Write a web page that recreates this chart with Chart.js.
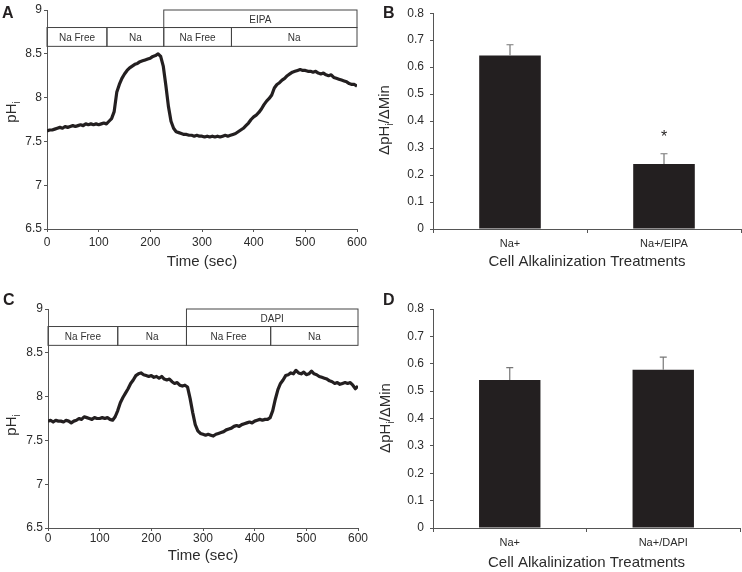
<!DOCTYPE html>
<html>
<head>
<meta charset="utf-8">
<script src="https://cdn.jsdelivr.net/npm/chart.js@4.4.0/dist/chart.umd.min.js"></script>
<style>
  body { margin: 0; background: #fff; width: 742px; height: 572px; position: relative; overflow: hidden; }
  .panel { position: absolute; width: 371px; height: 286px; }
  .letter { position: absolute; font: bold 16px/16px "Liberation Sans", Arial, sans-serif; color: #231f20; }
</style>
</head>
<body>
<div class="panel" style="left:0;top:0"><canvas id="chartA"></canvas></div>
<div class="panel" style="left:371px;top:0"><canvas id="chartB"></canvas></div>
<div class="panel" style="left:0;top:286px"><canvas id="chartC"></canvas></div>
<div class="panel" style="left:371px;top:286px"><canvas id="chartD"></canvas></div>
<div class="letter" style="left:2px;top:5px">A</div>
<div class="letter" style="left:383px;top:5px">B</div>
<div class="letter" style="left:3px;top:292px">C</div>
<div class="letter" style="left:383px;top:292px">D</div>
<script>
// time points (sec) of the pH traces
const times = [0,5,10,15,20,25,30,35,40,45,50,55,60,65,70,75,80,85,90,95,
  100,105,110,115,120,125,130,135,140,145,150,155,160,165,170,175,180,185,190,195,
  200,205,210,215,220,225,230,235,240,245,250,255,260,265,270,275,280,285,290,295,
  300,305,310,315,320,325,330,335,340,345,350,355,360,365,370,375,380,385,390,395,
  400,405,410,415,420,425,430,435,440,445,450,455,460,465,470,475,480,485,490,495,
  500,505,510,515,520,525,530,535,540,545,550,555,560,565,570,575,580,585,590,595,600];

// panel A trace (EIPA)
const phA = [7.62,7.63,7.63,7.64,7.65,7.66,7.65,7.67,7.66,7.67,7.68,7.67,7.68,7.69,7.68,7.70,7.69,7.70,7.69,7.70,
  7.69,7.70,7.71,7.70,7.73,7.76,7.84,8.06,8.15,8.22,8.27,8.31,8.34,8.36,8.38,8.39,8.41,8.42,8.43,8.44,
  8.45,8.47,8.48,8.50,8.47,8.36,8.14,7.90,7.73,7.65,7.61,7.60,7.59,7.58,7.58,7.57,7.57,7.56,7.57,7.56,
  7.56,7.55,7.56,7.55,7.56,7.55,7.56,7.55,7.56,7.57,7.56,7.57,7.58,7.59,7.61,7.63,7.65,7.68,7.71,7.75,
  7.78,7.80,7.83,7.87,7.92,7.96,7.99,8.03,8.11,8.15,8.17,8.20,8.22,8.25,8.27,8.29,8.30,8.31,8.32,8.31,
  8.31,8.30,8.30,8.29,8.30,8.28,8.27,8.28,8.26,8.25,8.26,8.23,8.22,8.21,8.20,8.19,8.18,8.16,8.15,8.15,8.13];

// panel C trace (DAPI)
const phC = [7.72,7.73,7.71,7.73,7.72,7.72,7.71,7.73,7.72,7.70,7.72,7.73,7.75,7.74,7.77,7.76,7.75,7.74,7.76,7.75,
  7.75,7.76,7.75,7.76,7.74,7.73,7.77,7.84,7.93,7.99,8.04,8.09,8.15,8.19,8.24,8.26,8.27,8.25,8.24,8.23,
  8.24,8.22,8.23,8.21,8.23,8.20,8.19,8.20,8.17,8.15,8.16,8.13,8.12,8.13,8.11,7.98,7.82,7.68,7.61,7.58,
  7.57,7.56,7.57,7.56,7.55,7.57,7.58,7.59,7.60,7.62,7.63,7.64,7.66,7.67,7.66,7.68,7.69,7.70,7.71,7.70,
  7.72,7.73,7.74,7.73,7.74,7.74,7.76,7.84,7.97,8.08,8.15,8.19,8.24,8.25,8.27,8.26,8.30,8.27,8.26,8.28,
  8.25,8.26,8.29,8.26,8.25,8.23,8.22,8.21,8.20,8.18,8.17,8.15,8.16,8.14,8.15,8.16,8.15,8.16,8.13,8.09,8.12];

// perfusion protocol (sec)
const segEdgesA = [0, 116, 226, 357, 600];
const segLabelsA = ["Na Free", "Na", "Na Free", "Na"];
const drugSpanA = [226, 600];
const drugLabelA = "EIPA";

const segEdgesC = [0, 135, 268, 431, 600];
const segLabelsC = ["Na Free", "Na", "Na Free", "Na"];
const drugSpanC = [268, 600];
const drugLabelC = "DAPI";

// alkalinization rates
const treatmentsB = ["Na+", "Na+/EIPA"];
const rateB = [0.643, 0.241];
const semB = [0.040, 0.038];
const sigB = ["", "*"];

const treatmentsD = ["Na+", "Na+/DAPI"];
const rateD = [0.541, 0.578];
const semD = [0.045, 0.046];
const sigD = ["", ""];

const FONT = '"Liberation Sans", Arial, sans-serif';
const INK = '#231f20';
const TXT = '#2b2b2b';
const AXIS = '#555';
Chart.defaults.font.family = FONT;
Chart.defaults.color = TXT;
Chart.defaults.animation = false;

// rotated y title with a subscript i
const yTitle = {
  id: 'yTitle',
  afterDraw(chart, args, o) {
    const ctx = chart.ctx;
    ctx.save();
    ctx.translate(o.x, o.y);
    ctx.rotate(-Math.PI / 2);
    ctx.fillStyle = TXT;
    ctx.textBaseline = 'middle';
    let total = 0;
    o.parts.forEach(p => { ctx.font = (p.sub ? '10px ' : '15px ') + FONT; total += ctx.measureText(p.t).width; });
    let x = -total / 2;
    o.parts.forEach(p => {
      ctx.font = (p.sub ? '10px ' : '15px ') + FONT;
      ctx.fillText(p.t, x, p.sub ? 5 : 0);
      x += ctx.measureText(p.t).width;
    });
    ctx.restore();
  }
};

// protocol boxes above the trace
const protocol = {
  id: 'protocol',
  afterDatasetsDraw(chart, args, o) {
    const ctx = chart.ctx, xs = chart.scales.x, ys = chart.scales.y;
    const y0 = ys.getPixelForValue(o.levels[0]);
    const y1 = ys.getPixelForValue(o.levels[1]);
    const y2 = ys.getPixelForValue(o.levels[2]);
    ctx.save();
    ctx.strokeStyle = '#444';
    ctx.lineWidth = 1;
    ctx.font = '10px ' + FONT;
    ctx.textAlign = 'center';
    ctx.textBaseline = 'middle';
    const dx0 = xs.getPixelForValue(o.drug[0]), dx1 = xs.getPixelForValue(o.drug[1]);
    ctx.fillStyle = '#fff';
    ctx.fillRect(dx0, y0, dx1 - dx0, y1 - y0);
    ctx.strokeRect(dx0, y0, dx1 - dx0, y1 - y0);
    ctx.fillStyle = '#333';
    ctx.fillText(o.drugLabel, (dx0 + dx1) / 2, (y0 + y1) / 2 + 1);
    for (let i = 0; i < o.labels.length; i++) {
      const a = xs.getPixelForValue(o.edges[i]), b = xs.getPixelForValue(o.edges[i + 1]);
      ctx.strokeRect(a, y1, b - a, y2 - y1);
      ctx.fillText(o.labels[i], (a + b) / 2, (y1 + y2) / 2 + 1);
    }
    ctx.restore();
  }
};

// error bars and significance marks for the bar charts
const errorBars = {
  id: 'errorBars',
  afterDatasetsDraw(chart, args, o) {
    const ctx = chart.ctx, ys = chart.scales.y;
    const meta = chart.getDatasetMeta(0);
    const vals = chart.data.datasets[0].data;
    ctx.save();
    ctx.strokeStyle = '#777';
    ctx.lineWidth = 1.2;
    meta.data.forEach((bar, i) => {
      const yt = ys.getPixelForValue(vals[i]);
      const ye = ys.getPixelForValue(vals[i] + o.err[i]);
      ctx.beginPath();
      ctx.moveTo(bar.x, yt);
      ctx.lineTo(bar.x, ye);
      ctx.moveTo(bar.x - 3.5, ye);
      ctx.lineTo(bar.x + 3.5, ye);
      ctx.stroke();
      if (o.marks[i]) {
        ctx.fillStyle = INK;
        ctx.font = '16px ' + FONT;
        ctx.textAlign = 'center';
        ctx.textBaseline = 'middle';
        ctx.fillText(o.marks[i], bar.x, ye - 16);
      }
    });
    ctx.restore();
  }
};

function fixSize(w, h) {
  return s => { if (w != null) s.width = w; if (h != null) s.height = h; };
}

function traceChart(id, values, edges, labels, drug, drugLabel, lay) {
  const pts = times.map((t, i) => ({ x: t, y: values[i] }));
  return new Chart(id, {
    type: 'line',
    data: { datasets: [{ data: pts, borderColor: INK, borderWidth: 3.2, pointRadius: 0, tension: 0, borderJoinStyle: 'round' }] },
    options: {
      responsive: true,
      maintainAspectRatio: false,
      layout: { padding: { top: lay.top, right: lay.right, left: 0, bottom: 0 } },
      plugins: {
        legend: { display: false },
        tooltip: { enabled: false },
        protocol: { levels: [9, 8.8, 8.585], edges: edges, labels: labels, drug: drug, drugLabel: drugLabel },
        yTitle: { x: lay.tx, y: lay.ty, parts: [{ t: 'pH' }, { t: 'i', sub: true }] }
      },
      scales: {
        x: {
          type: 'linear', min: 0, max: 600,
          afterFit: fixSize(null, lay.xh),
          ticks: { stepSize: 100, padding: lay.tp, font: { size: 12 }, maxRotation: 0 },
          grid: { drawOnChartArea: false, tickLength: 3, color: AXIS },
          border: { color: AXIS },
          title: { display: true, text: 'Time (sec)', font: { size: 15 }, padding: { top: 0, bottom: lay.tpb } }
        },
        y: {
          min: 6.5, max: 9,
          afterFit: fixSize(lay.yw, null),
          ticks: { stepSize: 0.5, padding: 2, font: { size: 12 }, callback: v => String(v) },
          grid: { drawOnChartArea: false, tickLength: 3, color: AXIS },
          border: { color: AXIS }
        }
      }
    },
    plugins: [protocol, yTitle]
  });
}

function rateChart(id, cats, vals, err, marks, lay) {
  return new Chart(id, {
    type: 'bar',
    data: { labels: cats, datasets: [{ data: vals, backgroundColor: INK, borderWidth: 0, barPercentage: 0.4, categoryPercentage: 1 }] },
    options: {
      responsive: true,
      maintainAspectRatio: false,
      layout: { padding: { top: lay.top, right: lay.right, left: 0, bottom: 0 } },
      plugins: {
        legend: { display: false },
        tooltip: { enabled: false },
        errorBars: { err: err, marks: marks },
        yTitle: { x: lay.tx, y: lay.ty, parts: [{ t: '\u0394pH' }, { t: 'i', sub: true }, { t: '/\u0394Min' }] }
      },
      scales: {
        x: {
          afterFit: fixSize(null, lay.xh),
          ticks: { padding: 4, font: { size: 11 } },
          grid: { offset: true, drawOnChartArea: false, tickLength: 4, color: AXIS },
          border: { color: AXIS },
          title: { display: true, text: 'Cell Alkalinization Treatments', font: { size: 15 }, padding: { top: 0, bottom: lay.tpb } }
        },
        y: {
          min: 0, max: 0.8,
          afterFit: fixSize(lay.yw, null),
          ticks: { stepSize: 0.1, padding: 6, font: { size: 12 }, callback: v => String(Number(v.toFixed(1))) },
          grid: { drawOnChartArea: false, tickLength: 3, color: AXIS },
          border: { color: AXIS }
        }
      }
    },
    plugins: [errorBars, yTitle]
  });
}

traceChart('chartA', phA, segEdgesA, segLabelsA, drugSpanA, drugLabelA,
  { top: 10, right: 14, yw: 47, xh: 57, tp: 3, tpb: 15, tx: 12, ty: 112 });
rateChart('chartB', treatmentsB, rateB, semB, sigB,
  { top: 10, right: 1, yw: 62, xh: 57, tpb: 15, tx: 14, ty: 120 });
traceChart('chartC', phC, segEdgesC, segLabelsC, drugSpanC, drugLabelC,
  { top: 23, right: 13, yw: 48, xh: 44, tp: 0, tpb: 7, tx: 12, ty: 139 });
rateChart('chartD', treatmentsD, rateD, semD, sigD,
  { top: 23, right: 2, yw: 62, xh: 44, tpb: 0, tx: 15, ty: 132 });
</script>
</body>
</html>
